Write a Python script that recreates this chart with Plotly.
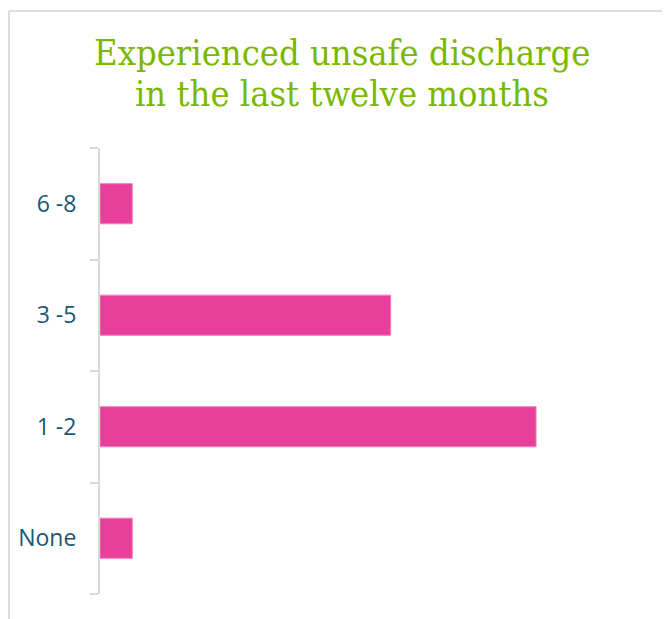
import plotly.graph_objects as go

categories = ["None", "1 -2", "3 -5", "6 -8"]
values = [2, 27, 18, 2]
title_lines = ["Experienced unsafe discharge", "in the last twelve months"]

W, H = 670, 619
OFF = 8  # page body margin offset
L, R, T, B = 100 - OFF, 0, 148 - OFF, 619 - 594 + OFF
PW, PH = W - L - R, H - T - B


def px_to_paper_x(px):
    # px given in page coordinates
    return (px - OFF - L) / PW


def px_to_paper_y(py):
    return 1 + (T - (py - OFF)) / PH


fig = go.Figure(
    go.Bar(
        x=values,
        y=categories,
        orientation="h",
        marker=dict(color="#E8409A", line=dict(color="#F27FBC", width=1)),
        hoverinfo="x+y",
    )
)

fig.update_layout(
    width=W,
    height=H,
    margin=dict(l=L, r=R, t=T, b=B),
    paper_bgcolor="white",
    plot_bgcolor="white",
    bargap=0.64,
    showlegend=False,
    xaxis=dict(
        range=[0, PW / 16.15],
        visible=False,
        showgrid=False,
        zeroline=False,
    ),
    yaxis=dict(
        categoryorder="array",
        categoryarray=categories,
        showline=True,
        linecolor="#D9D9D9",
        linewidth=2,
        ticks="outside",
        tickson="boundaries",
        ticklen=8,
        tickwidth=2,
        tickcolor="#D9D9D9",
        showgrid=False,
        zeroline=False,
        ticklabelstandoff=17,
        tickfont=dict(family="Open Sans", size=23, color="#175873"),
    ),
)

# title lines
for line, py in zip(title_lines, [52, 93]):
    fig.add_annotation(
        text=line,
        xref="paper",
        yref="paper",
        x=px_to_paper_x(342),
        y=px_to_paper_y(py),
        xanchor="center",
        yanchor="middle",
        showarrow=False,
        font=dict(family="DejaVu Serif Condensed", size=36, color="#7AB800"),
    )

# light frame around the card
fig.add_shape(
    type="line", xref="paper", yref="paper",
    x0=px_to_paper_x(9), x1=px_to_paper_x(700),
    y0=px_to_paper_y(11), y1=px_to_paper_y(11),
    line=dict(color="#DDDDDD", width=2),
)
fig.add_shape(
    type="line", xref="paper", yref="paper",
    x0=px_to_paper_x(9), x1=px_to_paper_x(9),
    y0=px_to_paper_y(11), y1=px_to_paper_y(640),
    line=dict(color="#DDDDDD", width=2),
)

fig.write_html("out.html")
